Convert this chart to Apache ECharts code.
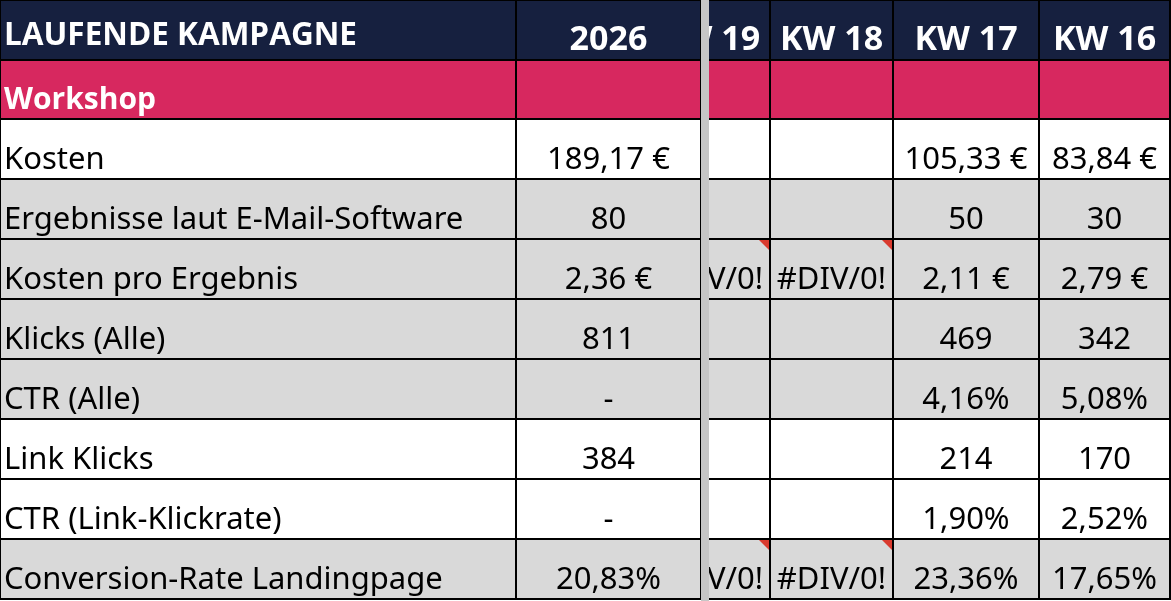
<!DOCTYPE html>
<html>
<head>
<meta charset="utf-8">
<script src="https://cdn.jsdelivr.net/npm/echarts@6/dist/echarts.min.js"></script>
<style>
  html, body { margin: 0; padding: 0; background: #fff; }
  #chart { width: 1171px; height: 601px; }
</style>
</head>
<body>
<div id="chart"></div>
<script>
// Tabelleninhalt
var titel = 'LAUFENDE KAMPAGNE';
var abschnitt = 'Workshop';
var spalten = ['2026', 'KW 19', 'KW 18', 'KW 17', 'KW 16', ''];
var zeilen = ['Kosten', 'Ergebnisse laut E-Mail-Software', 'Kosten pro Ergebnis', 'Klicks (Alle)',
  'CTR (Alle)', 'Link Klicks', 'CTR (Link-Klickrate)', 'Conversion-Rate Landingpage'];
var werte2026 = ['189,17 €', '80', '2,36 €', '811', '-', '384', '-', '20,83%'];
var werteKW19 = ['', '', '#DIV/0!', '', '', '', '', '#DIV/0!'];
var werteKW18 = ['', '', '#DIV/0!', '', '', '', '', '#DIV/0!'];
var werteKW17 = ['105,33 €', '50', '2,11 €', '469', '4,16%', '214', '1,90%', '23,36%'];
var werteKW16 = ['83,84 €', '30', '2,79 €', '342', '5,08%', '170', '2,52%', '17,65%'];
var graueZeilen = [1, 2, 3, 4, 7];
var fehlerMarker = [[2, 2], [2, 7], [3, 2], [3, 7]]; // [spalte, zeile]

var spaltenWerte = [zeilen, werte2026, werteKW19, werteKW18, werteKW17, werteKW16, []];

// Layout (Pixel)
var spaltenKanten = [[0, 516], [516, 701], [647, 770], [770, 893], [893, 1039], [1039, 1170], [1170, 1300]];
var zeilenKanten = [[0, 60], [60, 119]];
for (var i = 0; i < zeilen.length; i++) zeilenKanten.push([119 + i * 60, 179 + i * 60]);

var NAVY = '#16203f', PINK = '#d7285f', GRAU = '#d9d9d9';
var bodyFont = '"Noto Sans", sans-serif';
var headFont = '"Open Sans", sans-serif';

// Zellen: [spalte, zeile]; Spalte KW 19 zuerst, damit sie links abgeschnitten wird
var zellen = [];
var reihenfolge = [2, 0, 1, 3, 4, 5, 6];
reihenfolge.forEach(function (c) {
  for (var r = 0; r < zeilenKanten.length; r++) zellen.push([c, r]);
});

function renderCell(params, api) {
  var c = api.value(0), r = api.value(1);
  var ec = spaltenKanten[c], er = zeilenKanten[r];
  var p0 = api.coord([ec[0], er[0]]);
  var p1 = api.coord([ec[1], er[1]]);
  var w = p1[0] - p0[0], h = p1[1] - p0[1];
  var z = c === 2 ? 1 : 10;
  var fill, text = '', color = '#000', font = bodyFont, weight = 'normal', size = 31, align = 'center', dy = 11;
  if (r === 0) {
    fill = NAVY; color = '#fff'; font = headFont; weight = 'bold';
    text = c === 0 ? titel : spalten[c - 1];
    size = c === 0 ? 31.5 : 34;
    dy = c === 0 ? 6 : 10;
  } else if (r === 1) {
    fill = PINK; color = '#fff'; font = headFont; weight = 'bold'; size = 30; dy = 11;
    text = c === 0 ? abschnitt : '';
  } else {
    var k = r - 2;
    fill = graueZeilen.indexOf(k) >= 0 ? GRAU : '#fff';
    text = spaltenWerte[c][k] || '';
  }
  if (c === 0) align = 'left';
  var tx = align === 'left' ? p0[0] + 4 : p0[0] + w / 2;
  var children = [
    { type: 'rect', z2: z, shape: { x: p0[0], y: p0[1], width: w, height: h },
      style: { fill: fill, stroke: '#000', lineWidth: 2 } },
    { type: 'text', z2: z + 1, x: tx, y: p0[1] + h / 2 + dy,
      style: { text: text, fill: color, font: weight + ' ' + size + 'px ' + font,
        align: align, verticalAlign: 'middle' } }
  ];
  fehlerMarker.forEach(function (m) {
    if (m[0] === c && m[1] === r - 2) {
      children.push({ type: 'polygon', z2: z + 2,
        shape: { points: [[p1[0] - 11, p0[1] + 1], [p1[0] - 1, p0[1] + 1], [p1[0] - 1, p0[1] + 11]] },
        style: { fill: '#d93a2e' } });
    }
  });
  return { type: 'group', children: children };
}

// graue Trennlinie der fixierten Spalten
function renderTrenner(params, api) {
  var p0 = api.coord([701, 0]), p1 = api.coord([709, 601]);
  return { type: 'rect', z2: 50, shape: { x: p0[0], y: p0[1], width: p1[0] - p0[0], height: p1[1] - p0[1] },
    style: { fill: '#c6c6c6' } };
}

var chart = echarts.init(document.getElementById('chart'), null, { renderer: 'canvas' });
var option = {
  animation: false,
  grid: { left: 0, right: 0, top: 0, bottom: 0 },
  xAxis: { type: 'value', min: 0, max: 1171, show: false },
  yAxis: { type: 'value', min: 0, max: 601, inverse: true, show: false },
  series: [
    { type: 'custom', data: zellen, renderItem: renderCell, clip: true, silent: true },
    { type: 'custom', data: [[0, 0]], renderItem: renderTrenner, clip: true, silent: true, z: 3 }
  ]
};
chart.setOption(option);
</script>
</body>
</html>
